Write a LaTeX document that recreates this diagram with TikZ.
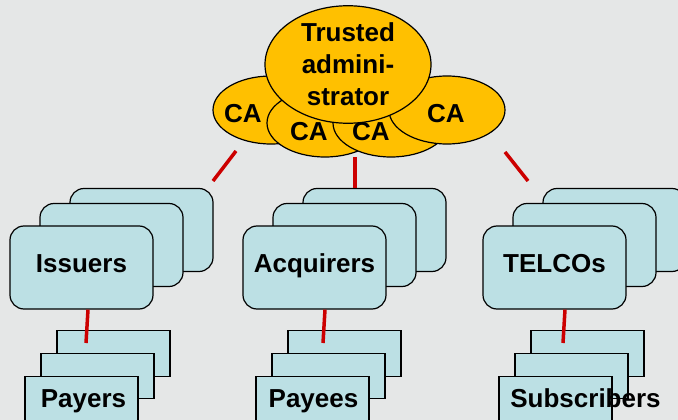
\documentclass[tikz,border=0pt]{standalone}
\usepackage{fontspec}
\setmainfont{Liberation Sans}
\usetikzlibrary{shapes.geometric,positioning}

\definecolor{slidegray}{RGB}{229,231,231}
\definecolor{cayellow}{RGB}{255,192,0}
\definecolor{boxblue}{RGB}{188,224,228}
\definecolor{linkred}{RGB}{204,0,0}

\begin{document}
\begin{tikzpicture}[x=1pt, y=-1pt, line width=1.2pt]
		\tikzstyle{boxtext}
		=[font=\fontsize{26}{32}\selectfont\bfseries]
		\tikzstyle{word}
		=[boxtext, inner sep=0pt, text height=19pt, text depth=5.5pt]
		\tikzstyle{ca}
		=[ellipse, draw=black, fill=cayellow, minimum width=116pt, minimum height=68pt, inner sep=0pt]
		\tikzstyle{org}
		=[draw=black, fill=boxblue, rounded corners=14pt, minimum width=143pt, minimum height=83pt, inner sep=0pt]
		\tikzstyle{user}
		=[draw=black, fill=boxblue, minimum width=113pt, minimum height=45.5pt, inner sep=0pt]
		\tikzstyle{link}
		=[draw=linkred, line width=3.5pt]
		
		% Slide background
		\useasboundingbox (0,0) rectangle (678,420);
		\clip (0,0) rectangle (678,420);
		\fill[slidegray] (0,0) rectangle (678,420);
		
		% Draw the certification authorities
		\foreach \n / \x / \y / \tx / \ty in {1/271/110/243/115.25, 2/325/123/309/133.25, 3/391/123/371/133.25, 4/447/110/446/115.25}
		{
		\node[ca] (ca-\n) at (\x,\y) {};
		\node[word] (ca-\n-t) at (\tx,\ty) {CA};
		}
		
		% Draw the trusted administrator on top
		\node[ca, boxtext, align=center, minimum width=166pt, minimum height=113pt] (admin) at (348,64.5) {Trusted\\admini-\\strator};
		
		% Draw the organisations, back to front
		\foreach \n / \x / \lab in {iss/10/Issuers, acq/243/Acquirers, tel/483/TELCOs}
		{
		\node[org] (\n-3) at (\x+131.5,230) {};
		\node[org] (\n-2) at (\x+101.5,245) {};
		\node[org, boxtext, text height=18.6pt, text depth=9.6pt] (\n-1) at (\x+71.5,267.5) {\lab};
		}
		
		% Draw the users, back to front
		\foreach \n / \x / \dx / \lab in {pay/25/2/Payers, pye/256/1/Payees, sub/499/30/Subscribers}
		{
		\node[user] (\n-3) at (\x+88.5,353.5) {};
		\node[user] (\n-2) at (\x+72.5,376) {};
		\node[user] (\n-1) at (\x+56.5,399) {};
		\node[word] (\n-t) at ([xshift=\dx pt, yshift=-1.3pt]\n-1.center) {\lab};
		}
		
		% Connect the CAs with the organisations
		\coordinate (l-top) at (236,151);
		\coordinate (l-bot) at (213,181);
		\coordinate (m-top) at (355,157);
		\coordinate (r-top) at (505,152);
		\coordinate (r-bot) at (528,181);
		\draw[link] (l-top) -- (l-bot);
		\draw[link] (m-top) -- (m-top |- acq-3.north);
		\draw[link] (r-top) -- (r-bot);
		
		% Connect every organisation with its users
		\foreach \a / \b / \s / \x in {iss/pay/6.5/86, acq/pye/10.5/323, tel/sub/10.5/563}
		{
		\coordinate (\b-k) at (\x,343);
		\draw[link] ([xshift=\s pt]\a-1.south) -- (\b-k);
		}
	\end{tikzpicture}
\end{document}
